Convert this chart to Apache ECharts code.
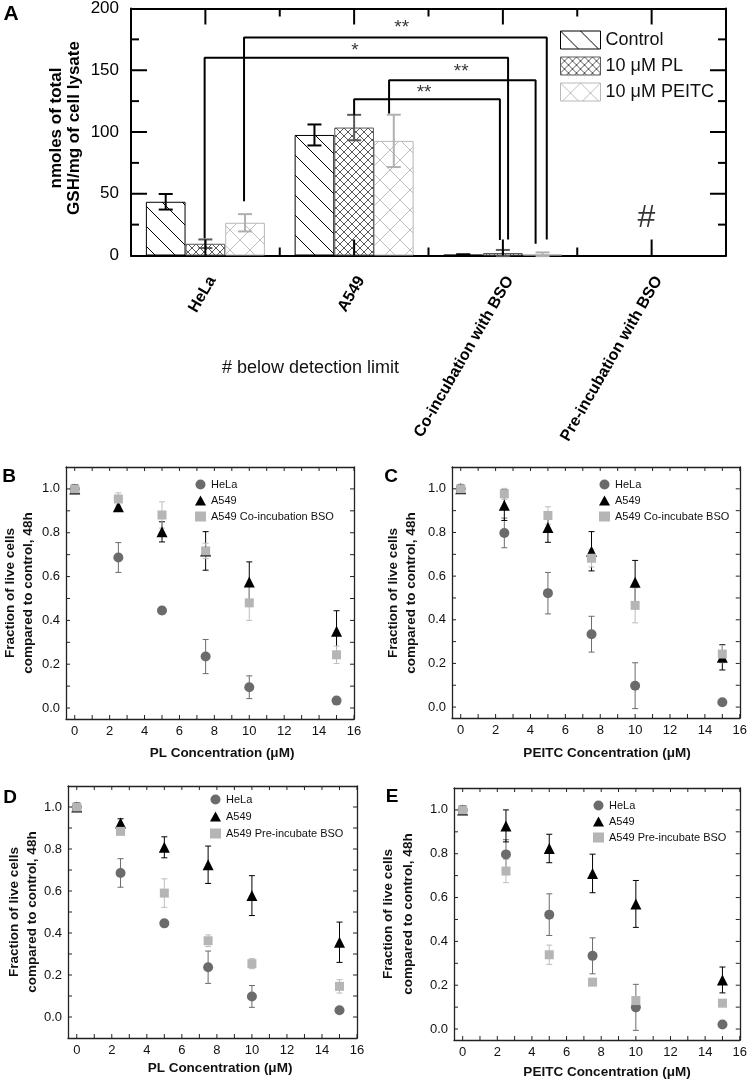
<!DOCTYPE html>
<html><head><meta charset="utf-8">
<script src="https://cdn.jsdelivr.net/npm/echarts@6/dist/echarts.min.js"></script>
<style>html,body{margin:0;padding:0;background:#fff}#c{width:750px;height:1084px}</style>
</head><body><div id="c"></div>
<script>
// ---------- Panel A data ----------
const categoriesA = ['HeLa', 'A549', 'Co-incubation with BSO', 'Pre-incubation with BSO'];
const seriesNamesA = ['Control', '10 μM PL', '10 μM PEITC'];
const controlA = [43.5, 97.6, 0.6, null];
const controlErrA = [6.3, 8.5, 0.4, null];
const plA = [9.5, 103.6, 2.0, null];
const plErrA = [3.5, 10.3, 2.5, null];
const peitcA = [26.5, 92.8, 1.0, null];
const peitcErrA = [7.0, 21.2, 1.5, null];
const yMajorTicksA = [50, 100, 150];
const yMinorTicksA = [25, 75, 125, 175];
const xMajorTicksA = [1, 3, 5, 7];
const xMinorTicksA = [2, 4, 6];
// significance brackets (x in group units 0..8, y in data units)
const bracketX1 = [1.52, 0.99, 3.47, 3.0];
const bracketY1 = [44, 14, 115, 113.5];
const bracketTop = [176.5, 160.2, 141.9, 126.5];
const bracketX2 = [5.59, 5.07, 5.44, 4.96];
const bracketY2 = [13, 13, 9.5, 12.5];
const starText = ['**', '*', '**', '**'];
const starX = [3.64, 3.01, 4.44, 3.94];
const starY = [184, 166, 149, 132];
const hashX = 6.93, hashY = 30;

// ---------- Panels B-E data ----------
const conc = [0, 2.5, 5, 7.5, 10, 15];
const xTickVals = [0,1,2,3,4,5,6,7,8,9,10,11,12,13,14,15,16];
const xLabelVals = [0,2,4,6,8,10,12,14,16];
const yTickVals = [0,0.1,0.2,0.3,0.4,0.5,0.6,0.7,0.8,0.9,1.0];
const yLabelVals = [0,0.2,0.4,0.6,0.8,1.0];

const bHeLa = [1.0, 0.687, 0.445, 0.235, 0.095, 0.034];
const bHeLaErr = [0.01, 0.068, 0.015, 0.078, 0.052, 0.012];
const bA549 = [1.0, 0.919, 0.804, 0.717, 0.575, 0.35];
const bA549Err = [0.02, 0.02, 0.046, 0.088, 0.092, 0.094];
const bBSO = [1.0, 0.954, 0.881, 0.717, 0.48, 0.243];
const bBSOErr = [0.01, 0.028, 0.06, 0.035, 0.08, 0.04];

const cHeLa = [1.0, 0.798, 0.522, 0.334, 0.098, 0.022];
const cHeLaErr = [0.01, 0.068, 0.095, 0.082, 0.105, 0.01];
const cA549 = [1.0, 0.925, 0.823, 0.714, 0.572, 0.228];
const cA549Err = [0.02, 0.07, 0.068, 0.09, 0.1, 0.058];
const cBSO = [1.0, 0.977, 0.878, 0.682, 0.466, 0.243];
const cBSOErr = [0.01, 0.025, 0.04, 0.04, 0.08, 0.04];

const dHeLa = [1.0, 0.686, 0.446, 0.237, 0.098, 0.032];
const dHeLaErr = [0.01, 0.068, 0.015, 0.077, 0.052, 0.012];
const dA549 = [1.0, 0.924, 0.808, 0.725, 0.578, 0.356];
const dA549Err = [0.02, 0.02, 0.05, 0.089, 0.095, 0.096];
const dBSO = [1.0, 0.884, 0.59, 0.363, 0.254, 0.146];
const dBSOErr = [0.01, 0.01, 0.068, 0.028, 0.024, 0.032];

const eHeLa = [1.0, 0.797, 0.522, 0.334, 0.099, 0.021];
const eHeLaErr = [0.01, 0.067, 0.095, 0.082, 0.105, 0.01];
const eA549 = [1.0, 0.927, 0.824, 0.71, 0.571, 0.224];
const eA549Err = [0.02, 0.073, 0.065, 0.088, 0.107, 0.059];
const eBSO = [1.0, 0.721, 0.339, 0.214, 0.13, 0.118];
const eBSOErr = [0.01, 0.053, 0.044, 0.01, 0.015, 0.008];

// ---------- styles ----------
const SANS = "'Liberation Sans', Arial, Helvetica, sans-serif";
const NARROW = "'Liberation Sans Narrow', 'Arial Narrow', 'Liberation Sans', Arial, sans-serif";
const C_HELA = '#6b6b6b', C_A549 = '#000000', C_BSO = '#b5b5b5';

function hatch(size, color, dirs, lw) {
  const c = document.createElement('canvas');
  c.width = size; c.height = size;
  const g = c.getContext('2d');
  g.fillStyle = '#fff'; g.fillRect(0, 0, size, size);
  g.strokeStyle = color; g.lineWidth = lw;
  if (dirs.indexOf('\\') >= 0) { g.beginPath(); g.moveTo(-2, -2); g.lineTo(size + 2, size + 2); g.stroke(); }
  if (dirs.indexOf('/') >= 0) { g.beginPath(); g.moveTo(-2, size + 2); g.lineTo(size + 2, -2); g.stroke(); }
  return { image: c, repeat: 'repeat' };
}
const patControl = hatch(20, '#000', '\\', 1);
const patPL = hatch(8, '#5a5a5a', '\\/', 1);
const patPEITC = hatch(20, '#bdbdbd', '\\/', 1);
const barBorders = ['#000', '#5a5a5a', '#b8b8b8'];
const errColorsA = ['#000', '#5a5a5a', '#b0b0b0'];

function errRender(color, cap, lw) {
  return function (params, api) {
    const x = api.value(0), y = api.value(1), e = api.value(2);
    const hi = api.coord([x, y + e]), lo = api.coord([x, y - e]);
    const st = { stroke: color, lineWidth: lw };
    return { type: 'group', children: [
      { type: 'line', shape: { x1: hi[0], y1: hi[1], x2: lo[0], y2: lo[1] }, style: st },
      { type: 'line', shape: { x1: hi[0] - cap, y1: hi[1], x2: hi[0] + cap, y2: hi[1] }, style: st },
      { type: 'line', shape: { x1: lo[0] - cap, y1: lo[1], x2: lo[0] + cap, y2: lo[1] }, style: st }
    ]};
  };
}

const xAxis = [], yAxis = [], grid = [], series = [], legend = [], graphic = [];
const tickSpecs = []; // frame tick sets, converted to pixels through the axes after layout

// ---------- Panel A ----------
grid.push({ left: 131, top: 8, width: 595, height: 247.5 });
xAxis.push({ type: 'category', gridIndex: 0, position: 'bottom', data: categoriesA,
  axisLine: { onZero: false, lineStyle: { color: '#000', width: 2 } }, axisTick: { show: false },
  axisLabel: { interval: 0, rotate: 60, margin: 18, verticalAlign: 'top', fontSize: 16, fontWeight: 'bold', fontFamily: SANS, color: '#000' },
  splitLine: { show: false } });
xAxis.push({ type: 'value', gridIndex: 0, position: 'bottom', min: 0, max: 8,
  axisLine: { show: false, onZero: false }, axisTick: { show: false }, axisLabel: { show: false }, splitLine: { show: false } });
xAxis.push({ type: 'value', gridIndex: 0, position: 'top', min: 0, max: 8,
  axisLine: { show: true, onZero: false, lineStyle: { color: '#000', width: 2 } }, axisTick: { show: false },
  axisLabel: { show: false }, splitLine: { show: false } });
['left', 'right'].forEach(function (pos) {
  yAxis.push({ type: 'value', gridIndex: 0, position: pos, min: 0, max: 200, interval: 50,
    axisLine: { show: true, onZero: false, lineStyle: { color: '#000', width: 2 } },
    axisTick: { show: false }, minorTick: { show: false },
    axisLabel: { show: pos === 'left', margin: 12, fontSize: 17, fontFamily: NARROW, color: '#000' },
    splitLine: { show: false } });
});
tickSpecs.push({ xi: 1, yi: 0, xr: [0, 8], yr: [0, 200], xv: xMajorTicksA, yv: yMajorTicksA, len: 16, color: '#000', lw: 2 });
tickSpecs.push({ xi: 1, yi: 0, xr: [0, 8], yr: [0, 200], xv: xMinorTicksA, yv: yMinorTicksA, len: 8, color: '#000', lw: 2 });

const valsA = [controlA, plA, peitcA], errsA = [controlErrA, plErrA, peitcErrA], patsA = [patControl, patPL, patPEITC];
seriesNamesA.forEach(function (nm, s) {
  series.push({ type: 'bar', name: nm, xAxisIndex: 0, yAxisIndex: 0, data: valsA[s].map(v => v == null ? '-' : v),
    barGap: '0%', barCategoryGap: '20%', z: 2,
    itemStyle: { color: patsA[s], borderColor: barBorders[s], borderWidth: 1 } });
});
const barSlot = 1.6 / 3;
seriesNamesA.forEach(function (nm, s) {
  const data = [];
  valsA[s].forEach(function (v, i) { if (v != null) data.push([2 * i + 1 + (s - 1) * barSlot, v, errsA[s][i]]); });
  series.push({ type: 'custom', name: 'errA' + s, xAxisIndex: 1, yAxisIndex: 0, data: data, z: 3,
    encode: { x: 0, y: 1 }, renderItem: errRender(errColorsA[s], 7, 2) });
});
bracketX1.forEach(function (x1, i) {
  series.push({ type: 'line', name: 'bracket' + i, xAxisIndex: 1, yAxisIndex: 0, symbol: 'none', z: 4,
    data: [[x1, bracketY1[i]], [x1, bracketTop[i]], [bracketX2[i], bracketTop[i]], [bracketX2[i], bracketY2[i]]],
    lineStyle: { color: '#000', width: 2 } });
});
series.push({ type: 'scatter', name: 'stars', xAxisIndex: 1, yAxisIndex: 0, symbolSize: 1, z: 5,
  itemStyle: { color: 'rgba(0,0,0,0)' },
  data: starText.map((t, i) => ({ name: t, value: [starX[i], starY[i]] }))
    .concat([{ name: '#', value: [hashX, hashY], label: { fontSize: 32 } }]),
  label: { show: true, position: 'inside', formatter: p => p.name, color: '#000', fontFamily: SANS, fontSize: 19 } });
legend.push({ data: seriesNamesA.map((n, s) => ({ name: n, icon: 'rect', itemStyle: { borderColor: barBorders[s], borderWidth: 1 } })),
  orient: 'vertical', left: 560, top: 30.5, itemWidth: 40, itemHeight: 18, itemGap: 7, padding: 0, selectedMode: false,
  textStyle: { fontSize: 18, fontFamily: SANS, color: '#111', lineHeight: 18 } });

// ---------- Panels B-E ----------
const panels = [
  { letter: 'B', grid: { left: 66, top: 467, width: 288, height: 252 }, ymin: -0.05, xTitle: 'PL Concentration (μM)',
    hela: bHeLa, helaE: bHeLaErr, a549: bA549, a549E: bA549Err, bso: bBSO, bsoE: bBSOErr, bsoName: 'A549 Co-incubation BSO',
    leg: [195, 479, 5], letterPos: [9, 477], yt: [10, 28, 593], xt: [222, 753] },
  { letter: 'C', grid: { left: 452, top: 467, width: 288, height: 251 }, ymin: -0.05, xTitle: 'PEITC Concentration (μM)',
    hela: cHeLa, helaE: cHeLaErr, a549: cA549, a549E: cA549Err, bso: cBSO, bsoE: cBSOErr, bsoName: 'A549 Co-incubate BSO',
    leg: [599, 479, 5], letterPos: [391, 477], yt: [393, 411, 593], xt: [607, 753] },
  { letter: 'D', grid: { left: 68, top: 786, width: 289, height: 252 }, ymin: -0.1, xTitle: 'PL Concentration (μM)',
    hela: dHeLa, helaE: dHeLaErr, a549: dA549, a549E: dA549Err, bso: dBSO, bsoE: dBSOErr, bsoName: 'A549 Pre-incubate BSO',
    leg: [210, 794, 6], letterPos: [10, 798], yt: [14, 32, 912], xt: [220, 1068] },
  { letter: 'E', grid: { left: 454, top: 788, width: 288, height: 252 }, ymin: -0.05, xTitle: 'PEITC Concentration (μM)',
    hela: eHeLa, helaE: eHeLaErr, a549: eA549, a549E: eA549Err, bso: eBSO, bsoE: eBSOErr, bsoName: 'A549 Pre-incubate BSO',
    leg: [593, 800, 5], letterPos: [392, 797], yt: [388, 408, 914], xt: [607, 1072] }
];
const AX = '#222';
panels.forEach(function (p, k) {
  const g = k + 1;
  grid.push(p.grid);
  const xi = xAxis.length, yi = yAxis.length;
  ['bottom', 'top'].forEach(function (pos) {
    xAxis.push({ type: 'value', gridIndex: g, position: pos, min: -0.5, max: 16,
      axisLine: { show: true, onZero: false, lineStyle: { color: AX, width: 1.3 } },
      axisTick: { show: false },
      axisLabel: { show: pos === 'bottom', customValues: xLabelVals, margin: 6, fontSize: 13, fontFamily: SANS, color: '#111' },
      splitLine: { show: false } });
  });
  ['left', 'right'].forEach(function (pos) {
    yAxis.push({ type: 'value', gridIndex: g, position: pos, min: p.ymin, max: 1.1,
      axisLine: { show: true, onZero: false, lineStyle: { color: AX, width: 1.3 } },
      axisTick: { show: false },
      axisLabel: { show: pos === 'left', customValues: yLabelVals, margin: 6, fontSize: 13, fontFamily: SANS, color: '#111',
        formatter: v => Number(v).toFixed(1) },
      splitLine: { show: false } });
  });
  tickSpecs.push({ xi: xi, yi: yi, xr: [-0.5, 16], yr: [p.ymin, 1.1], xv: xTickVals, yv: yTickVals, len: 4, color: AX, lw: 1 });
  const sets = [
    ['HeLa', p.hela, p.helaE, C_HELA, 'circle', 10],
    ['A549', p.a549, p.a549E, C_A549, 'triangle', 11],
    [p.bsoName, p.bso, p.bsoE, C_BSO, 'rect', 9]
  ];
  sets.forEach(function (s, j) {
    series.push({ type: 'custom', name: 'err' + p.letter + j, xAxisIndex: xi, yAxisIndex: yi, z: 2 + j,
      encode: { x: 0, y: 1 }, data: conc.map((x, i) => [x, s[1][i], s[2][i]]),
      renderItem: errRender(j === 2 ? '#bdbdbd' : s[3], 3, 1) });
  });
  sets.forEach(function (s, j) {
    series.push({ type: 'scatter', name: s[0], xAxisIndex: xi, yAxisIndex: yi, z: 6 + j,
      symbol: s[4], symbolSize: s[5], data: conc.map((x, i) => [x, s[1][i]]),
      itemStyle: { color: s[3], opacity: 1 } });
  });
  legend.push({ data: sets.map(s => ({ name: s[0], icon: s[4] })), orient: 'vertical', left: p.leg[0], top: p.leg[1],
    itemWidth: 11, itemHeight: 10, itemGap: p.leg[2], padding: 0, selectedMode: false,
    textStyle: { fontSize: 11, fontFamily: SANS, color: '#111', lineHeight: 10 } });
  graphic.push({ type: 'text', x: p.letterPos[0], y: p.letterPos[1],
    style: { text: p.letter, font: 'bold 19px ' + SANS, fill: '#000', textAlign: 'center', textVerticalAlign: 'middle' } });
  graphic.push({ type: 'text', x: p.yt[0], y: p.yt[2], rotation: Math.PI / 2,
    style: { text: 'Fraction of live cells', font: 'bold 13.5px ' + SANS, fill: '#111', textAlign: 'center', textVerticalAlign: 'middle' } });
  graphic.push({ type: 'text', x: p.yt[1], y: p.yt[2], rotation: Math.PI / 2,
    style: { text: 'compared to control, 48h', font: 'bold 13.5px ' + SANS, fill: '#111', textAlign: 'center', textVerticalAlign: 'middle' } });
  graphic.push({ type: 'text', x: p.xt[0], y: p.xt[1],
    style: { text: p.xTitle, font: 'bold 13.5px ' + SANS, fill: '#111', textAlign: 'center', textVerticalAlign: 'middle' } });
});

graphic.push({ type: 'text', x: 11, y: 14, style: { text: 'A', font: 'bold 21px ' + SANS, fill: '#000', textAlign: 'center', textVerticalAlign: 'middle' } });
graphic.push({ type: 'text', x: 56, y: 128, rotation: Math.PI / 2,
  style: { text: 'nmoles of total', font: 'bold 17px ' + SANS, fill: '#000', textAlign: 'center', textVerticalAlign: 'middle' } });
graphic.push({ type: 'text', x: 74, y: 128, rotation: Math.PI / 2,
  style: { text: 'GSH/mg of cell lysate', font: 'bold 17px ' + SANS, fill: '#000', textAlign: 'center', textVerticalAlign: 'middle' } });
graphic.push({ type: 'text', x: 222, y: 368,
  style: { text: '# below detection limit', font: '18px ' + NARROW, fill: '#111', textAlign: 'left', textVerticalAlign: 'middle' } });

const chart = echarts.init(document.getElementById('c'));
chart.setOption({ animation: false, backgroundColor: '#fff', grid: grid, xAxis: xAxis, yAxis: yAxis, series: series, legend: legend, graphic: graphic });

// inward frame ticks, positioned through each panel's axes
const tickEls = [];
tickSpecs.forEach(function (t) {
  const f = { xAxisIndex: t.xi, yAxisIndex: t.yi };
  const st = { stroke: t.color, lineWidth: t.lw };
  t.xv.forEach(function (v) {
    const b = chart.convertToPixel(f, [v, t.yr[0]]), u = chart.convertToPixel(f, [v, t.yr[1]]);
    if (!b || !u) return;
    tickEls.push({ type: 'line', z: 50, silent: true, shape: { x1: b[0], y1: b[1], x2: b[0], y2: b[1] - t.len }, style: st });
    tickEls.push({ type: 'line', z: 50, silent: true, shape: { x1: u[0], y1: u[1], x2: u[0], y2: u[1] + t.len }, style: st });
  });
  t.yv.forEach(function (v) {
    const l = chart.convertToPixel(f, [t.xr[0], v]), r = chart.convertToPixel(f, [t.xr[1], v]);
    if (!l || !r) return;
    tickEls.push({ type: 'line', z: 50, silent: true, shape: { x1: l[0], y1: l[1], x2: l[0] + t.len, y2: l[1] }, style: st });
    tickEls.push({ type: 'line', z: 50, silent: true, shape: { x1: r[0], y1: r[1], x2: r[0] - t.len, y2: r[1] }, style: st });
  });
});
chart.setOption({ graphic: graphic.concat(tickEls) });
</script></body></html>
